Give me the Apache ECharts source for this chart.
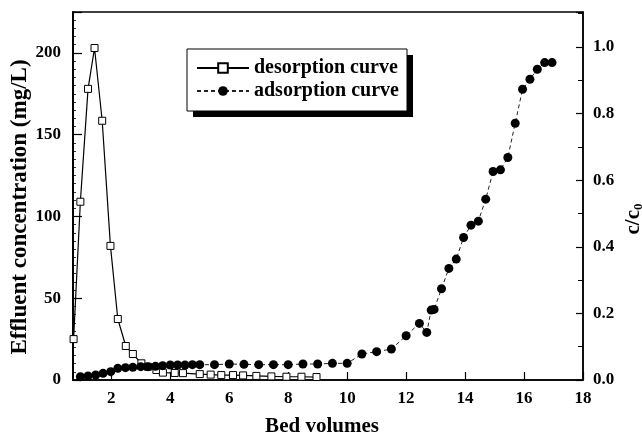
<!DOCTYPE html>
<html>
<head>
<meta charset="utf-8">
<title>Desorption and adsorption curves</title>
<script src="https://cdn.jsdelivr.net/npm/echarts@6/dist/echarts.min.js"></script>
<style>
  html, body { margin: 0; padding: 0; background: #fff; }
  #chart { width: 642px; height: 435px; }
</style>
</head>
<body>
<div id="chart"></div>
<script>
// Bed volume ticks on the x axis
const bedVolumeTicks = [2, 4, 6, 8, 10, 12, 14, 16, 18];

// Desorption: effluent concentration (mg/L) against bed volumes
const desorptionBV = [0.72, 0.95, 1.21, 1.43, 1.69, 1.97, 2.22, 2.49, 2.73, 3.02, 3.24, 3.53, 3.75,
  4.15, 4.43, 5.0, 5.37, 5.73, 6.13, 6.47, 6.92, 7.43, 7.94, 8.45, 8.96];
const desorptionConc = [25, 109, 178, 203, 158.5, 82, 37.3, 20.8, 15.9, 10.2, 8.1, 6.1, 4.5,
  4.3, 4.2, 3.6, 3.3, 3.0, 3.0, 2.8, 2.5, 2.2, 2.0, 2.0, 1.8];

// Adsorption: c/c0 against bed volumes
const adsorptionBV = [0.95, 1.21, 1.47, 1.72, 1.98, 2.22, 2.48, 2.73, 3.0, 3.24, 3.5, 3.74, 4.0,
  4.25, 4.5, 4.75, 5.0, 5.5, 6.0, 6.5, 7.0, 7.5, 8.0, 8.5, 9.0, 9.5, 10.0,
  10.5, 11.0, 11.5, 12.0, 12.45, 12.7, 12.85, 12.95, 13.2, 13.45, 13.7, 13.95,
  14.2, 14.45, 14.7, 14.95, 15.2, 15.45, 15.7, 15.95, 16.2, 16.45, 16.7, 16.95];
const adsorptionRatio = [0.010, 0.012, 0.015, 0.020, 0.025, 0.035, 0.037, 0.038, 0.040, 0.040, 0.041, 0.043, 0.045,
  0.045, 0.045, 0.046, 0.046, 0.046, 0.048, 0.047, 0.046, 0.046, 0.046, 0.048, 0.048, 0.050, 0.050,
  0.078, 0.085, 0.093, 0.133, 0.170, 0.143, 0.210, 0.212, 0.274, 0.335, 0.363, 0.428,
  0.465, 0.477, 0.543, 0.626, 0.631, 0.668, 0.771, 0.873, 0.903, 0.933, 0.953, 0.953];

const serif = '"Liberation Serif", "DejaVu Serif", serif';
const tickText = { fontFamily: serif, fontWeight: 'bold', fontSize: 17, color: '#000' };
const nameText = { fontFamily: serif, fontWeight: 'bold', fontSize: 21, color: '#000' };

const chart = echarts.init(document.getElementById('chart'), null, { renderer: 'canvas' });

chart.setOption({
  animation: false,
  backgroundColor: '#fff',
  grid: {
    left: 73, right: 59, top: 12, bottom: 55,
    outerBoundsMode: 'none',
    containLabel: false,
    show: true, borderColor: '#000', borderWidth: 1.5
  },
  // legend frame with its solid drop shadow
  graphic: [
    { type: 'rect', z: 1, shape: { x: 193, y: 55, width: 220, height: 62 }, style: { fill: '#000' } },
    { type: 'rect', z: 2, shape: { x: 187, y: 49, width: 220, height: 62 }, style: { fill: '#fff', stroke: '#000', lineWidth: 1 } }
  ],
  legend: {
    orient: 'vertical',
    left: 187, top: 49,
    z: 10,
    padding: [9, 8, 11, 9],
    itemWidth: 52, itemHeight: 12, itemGap: 3,
    textStyle: { fontFamily: serif, fontWeight: 'bold', fontSize: 20, color: '#000', lineHeight: 20 },
    data: ['desorption curve', 'adsorption curve']
  },
  xAxis: {
    type: 'value',
    min: 0.7, max: 18,
    name: 'Bed volumes',
    nameLocation: 'middle', nameGap: 36, nameMoveOverlap: false,
    nameTextStyle: { ...nameText, padding: [0, 12, 0, 0] },
    axisLine: { lineStyle: { color: '#000', width: 1.5 } },
    axisTick: { inside: true, length: 8, customValues: bedVolumeTicks, lineStyle: { color: '#000', width: 1.2 } },
    axisLabel: { customValues: bedVolumeTicks, margin: 10, ...tickText },
    splitLine: { show: false }
  },
  yAxis: [
    {
      type: 'value',
      min: 0, max: 225, interval: 50,
      position: 'left',
      name: 'Effluent concentration (mg/L)',
      nameLocation: 'middle', nameGap: 41, nameRotate: 90, nameMoveOverlap: false,
      nameTextStyle: { ...nameText, fontSize: 23, padding: [0, 22, 0, 0] },
      axisLine: { show: true, lineStyle: { color: '#000', width: 2 } },
      axisTick: { inside: true, length: 9, lineStyle: { color: '#000', width: 1.2 } },
      minorTick: { show: true, splitNumber: 10, length: 3, lineStyle: { color: '#000', width: 0.8 } },
      axisLabel: { margin: 12, showMaxLabel: false, ...tickText },
      splitLine: { show: false }
    },
    {
      type: 'value',
      min: 0, max: 1.105, interval: 0.2,
      position: 'right',
      name: '{c|c/c}{s|0}',
      nameLocation: 'middle', nameGap: 40, nameRotate: 90, nameMoveOverlap: false,
      nameTextStyle: {
        padding: [0, 46, 0, 0],
        rich: {
          c: { fontFamily: serif, fontWeight: 'bold', fontSize: 21, color: '#000', verticalAlign: 'top', lineHeight: 22, padding: [0, 0, 3, 0] },
          s: { fontFamily: serif, fontWeight: 'bold', fontSize: 13, color: '#000', verticalAlign: 'bottom', lineHeight: 13 }
        }
      },
      axisLine: { show: true, lineStyle: { color: '#000', width: 1.5 } },
      axisTick: { inside: true, length: 7, lineStyle: { color: '#000', width: 1.2 } },
      minorTick: { show: true, splitNumber: 2, length: 5, lineStyle: { color: '#000', width: 1 } },
      axisLabel: { margin: 10, showMaxLabel: false, formatter: v => v.toFixed(1), ...tickText },
      splitLine: { show: false }
    }
  ],
  series: [
    {
      name: 'desorption curve',
      type: 'line',
      yAxisIndex: 0,
      data: desorptionBV.map((x, i) => [x, desorptionConc[i]]),
      symbol: 'rect', symbolSize: 7,
      itemStyle: { color: '#fff', borderColor: '#000', borderWidth: 1 },
      lineStyle: { color: '#000', width: 1.2 },
      z: 2
    },
    {
      name: 'adsorption curve',
      type: 'line',
      yAxisIndex: 1,
      data: adsorptionBV.map((x, i) => [x, adsorptionRatio[i]]),
      symbol: 'circle', symbolSize: 9,
      itemStyle: { color: '#000', borderColor: '#000', borderWidth: 0 },
      lineStyle: { color: '#222', width: 1, type: [4, 3] },
      z: 3
    }
  ]
});
</script>
</body>
</html>
